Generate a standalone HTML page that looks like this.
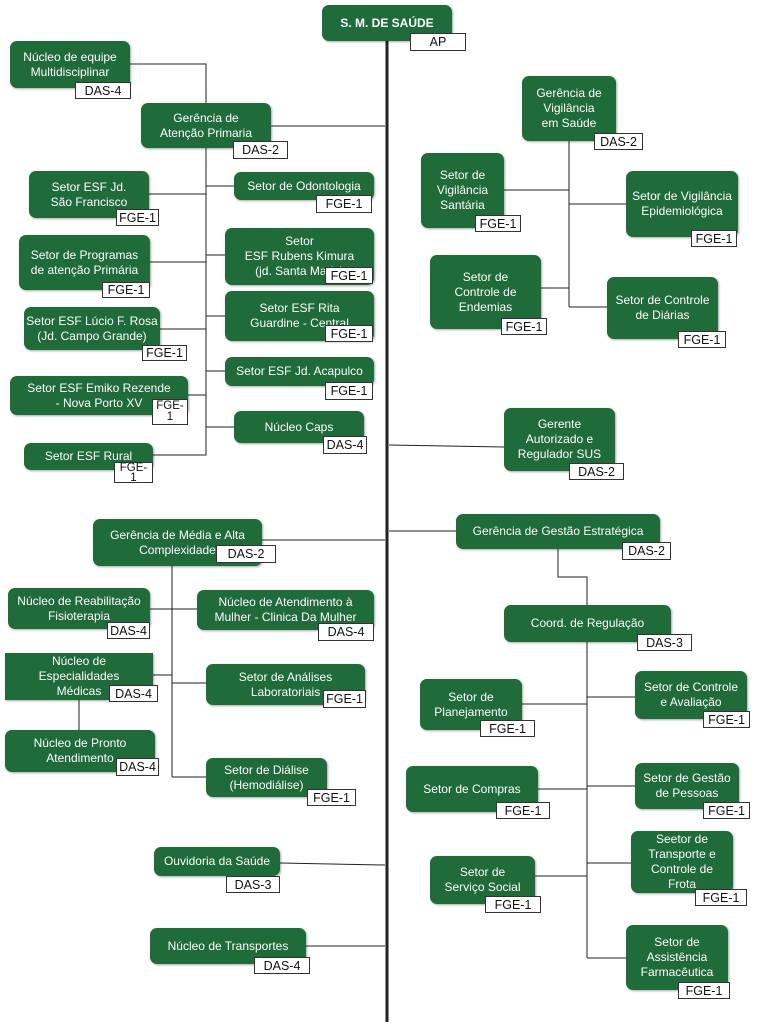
<!DOCTYPE html>
<html><head><meta charset="utf-8"><style>
body{margin:0;width:757px;height:1024px;background:#fff;position:relative;overflow:hidden;font-family:"Liberation Sans",Arial,sans-serif}
.b{position:absolute;background:#1f6b39;color:#fff;border-radius:7px;display:flex;align-items:center;justify-content:center;text-align:center;font-size:12px;line-height:15px;box-sizing:border-box;padding:0;white-space:nowrap;box-shadow:1px 1px 2px rgba(0,0,0,.35)}
.t{position:absolute;background:#fff;border:1px solid #333;color:#111;font-size:12.5px;line-height:14px;display:flex;align-items:center;justify-content:center;text-align:center;box-sizing:border-box}
svg{position:absolute;left:0;top:0}
</style></head><body>
<svg width="757" height="1024">
<g stroke="#222" stroke-width="1" fill="none">
<line x1="387" y1="40" x2="387" y2="1022" stroke-width="3"/>
<polyline points="130,64 206,64 206,455 153,455"/>
<line x1="271" y1="126" x2="385" y2="126"/>
<line x1="149" y1="194" x2="206" y2="194"/>
<line x1="206" y1="186" x2="234" y2="186"/>
<line x1="150" y1="262" x2="206" y2="262"/>
<line x1="206" y1="255" x2="225" y2="255"/>
<line x1="160" y1="329" x2="206" y2="329"/>
<line x1="206" y1="316" x2="225" y2="316"/>
<line x1="188" y1="395" x2="206" y2="395"/>
<line x1="206" y1="371" x2="225" y2="371"/>
<line x1="206" y1="427" x2="234" y2="427"/>
<line x1="569" y1="141" x2="569" y2="307"/>
<line x1="504" y1="190" x2="569" y2="190"/>
<line x1="569" y1="204" x2="626" y2="204"/>
<line x1="541" y1="288" x2="569" y2="288"/>
<line x1="569" y1="307" x2="607" y2="307"/>
<line x1="389" y1="445" x2="504" y2="447"/>
<line x1="389" y1="531" x2="456" y2="531"/>
<polyline points="558,549 558,577 587,577 587,605"/>
<line x1="587" y1="642" x2="587" y2="958"/>
<line x1="522" y1="704" x2="587" y2="704"/>
<line x1="587" y1="697" x2="635" y2="697"/>
<line x1="538" y1="789" x2="587" y2="789"/>
<line x1="587" y1="786" x2="635" y2="786"/>
<line x1="535" y1="876" x2="587" y2="876"/>
<line x1="587" y1="863" x2="631" y2="863"/>
<line x1="587" y1="958" x2="626" y2="958"/>
<line x1="262" y1="540" x2="385" y2="540"/>
<line x1="172" y1="566" x2="172" y2="777"/>
<line x1="150" y1="609" x2="197" y2="609"/>
<line x1="153" y1="675" x2="172" y2="675"/>
<line x1="172" y1="683" x2="206" y2="683"/>
<line x1="79" y1="700" x2="79" y2="730"/>
<line x1="172" y1="777" x2="206" y2="777"/>
<line x1="280" y1="863" x2="385" y2="865"/>
<line x1="306" y1="946" x2="385" y2="946"/>
</g></svg>

<div class="b" style="left:322px;top:5px;width:130px;height:36px;font-weight:bold">S. M. DE SAÚDE</div>
<div class="t" style="left:410px;top:33px;width:56px;height:18px">AP</div>

<div class="b" style="left:10px;top:41px;width:120px;height:47px">Núcleo de equipe<br>Multidisciplinar</div>
<div class="t" style="left:75px;top:82px;width:56px;height:17px">DAS-4</div>
<div class="b" style="left:141px;top:103px;width:130px;height:45px">Gerência de<br>Atenção Primaria</div>
<div class="t" style="left:233px;top:141px;width:55px;height:18px">DAS-2</div>
<div class="b" style="left:29px;top:171px;width:120px;height:47px">Setor ESF Jd.<br>São Francisco</div>
<div class="t" style="left:116px;top:209px;width:43px;height:17px">FGE-1</div>
<div class="b" style="left:234px;top:172px;width:140px;height:28px">Setor de Odontologia</div>
<div class="t" style="left:316px;top:195px;width:56px;height:18px">FGE-1</div>
<div class="b" style="left:19px;top:235px;width:131px;height:55px">Setor de Programas<br>de atenção Primária</div>
<div class="t" style="left:102px;top:282px;width:48px;height:16px">FGE-1</div>
<div class="b" style="left:225px;top:228px;width:149px;height:57px">Setor<br>ESF Rubens Kimura<br>(jd. Santa Maria)</div>
<div class="t" style="left:325px;top:267px;width:48px;height:17px">FGE-1</div>
<div class="b" style="left:24px;top:307px;width:136px;height:43px">Setor ESF Lúcio F. Rosa<br>(Jd. Campo Grande)</div>
<div class="t" style="left:142px;top:345px;width:45px;height:16px">FGE-1</div>
<div class="b" style="left:225px;top:291px;width:149px;height:50px">Setor ESF Rita<br>Guardine - Central</div>
<div class="t" style="left:325px;top:325px;width:48px;height:17px">FGE-1</div>
<div class="b" style="left:10px;top:376px;width:178px;height:39px">Setor ESF Emiko Rezende<br>- Nova Porto XV</div>
<div class="t" style="left:152px;top:399px;width:36px;height:26px;font-size:11.5px;line-height:11px">FGE-<br>1</div>
<div class="b" style="left:225px;top:357px;width:149px;height:29px">Setor ESF Jd. Acapulco</div>
<div class="t" style="left:325px;top:382px;width:48px;height:18px">FGE-1</div>
<div class="b" style="left:234px;top:411px;width:130px;height:32px">Núcleo Caps</div>
<div class="t" style="left:323px;top:436px;width:44px;height:18px">DAS-4</div>
<div class="b" style="left:24px;top:443px;width:129px;height:27px">Setor ESF Rural</div>
<div class="t" style="left:114px;top:462px;width:39px;height:21px;font-size:11.5px;line-height:10px">FGE-<br>1</div>

<div class="b" style="left:522px;top:76px;width:94px;height:65px">Gerência de<br>Vigilância<br>em Saúde</div>
<div class="t" style="left:594px;top:133px;width:49px;height:17px">DAS-2</div>
<div class="b" style="left:421px;top:153px;width:83px;height:75px">Setor de<br>Vigilância<br>Santária</div>
<div class="t" style="left:475px;top:215px;width:46px;height:17px">FGE-1</div>
<div class="b" style="left:626px;top:171px;width:112px;height:66px">Setor de Vigilância<br>Epidemiológica</div>
<div class="t" style="left:691px;top:230px;width:46px;height:17px">FGE-1</div>
<div class="b" style="left:430px;top:255px;width:111px;height:74px">Setor de<br>Controle de<br>Endemias</div>
<div class="t" style="left:501px;top:318px;width:46px;height:17px">FGE-1</div>
<div class="b" style="left:607px;top:277px;width:111px;height:62px">Setor de Controle<br>de Diárias</div>
<div class="t" style="left:678px;top:331px;width:48px;height:17px">FGE-1</div>
<div class="b" style="left:504px;top:408px;width:111px;height:63px">Gerente<br>Autorizado e<br>Regulador SUS</div>
<div class="t" style="left:569px;top:463px;width:55px;height:17px">DAS-2</div>

<div class="b" style="left:456px;top:514px;width:204px;height:35px">Gerência de Gestão Estratégica</div>
<div class="t" style="left:622px;top:542px;width:49px;height:18px">DAS-2</div>
<div class="b" style="left:504px;top:605px;width:167px;height:37px">Coord. de Regulação</div>
<div class="t" style="left:637px;top:634px;width:55px;height:17px">DAS-3</div>
<div class="b" style="left:420px;top:679px;width:102px;height:51px">Setor de<br>Planejamento</div>
<div class="t" style="left:480px;top:720px;width:55px;height:17px">FGE-1</div>
<div class="b" style="left:635px;top:671px;width:112px;height:48px">Setor de Controle<br>e Avaliação</div>
<div class="t" style="left:703px;top:711px;width:47px;height:17px">FGE-1</div>
<div class="b" style="left:406px;top:766px;width:132px;height:46px">Setor de Compras</div>
<div class="t" style="left:496px;top:802px;width:54px;height:17px">FGE-1</div>
<div class="b" style="left:635px;top:763px;width:104px;height:46px">Setor de Gestão<br>de Pessoas</div>
<div class="t" style="left:703px;top:802px;width:47px;height:17px">FGE-1</div>
<div class="b" style="left:430px;top:856px;width:105px;height:48px">Setor de<br>Serviço Social</div>
<div class="t" style="left:485px;top:896px;width:56px;height:17px">FGE-1</div>
<div class="b" style="left:631px;top:831px;width:102px;height:62px">Seetor de<br>Transporte e<br>Controle de<br>Frota</div>
<div class="t" style="left:695px;top:889px;width:52px;height:17px">FGE-1</div>
<div class="b" style="left:626px;top:925px;width:102px;height:65px">Setor de<br>Assistência<br>Farmacêutica</div>
<div class="t" style="left:678px;top:982px;width:52px;height:17px">FGE-1</div>

<div class="b" style="left:93px;top:519px;width:169px;height:47px">Gerência de Média e Alta<br>Complexidade</div>
<div class="t" style="left:216px;top:545px;width:60px;height:18px">DAS-2</div>
<div class="b" style="left:8px;top:588px;width:142px;height:41px">Núcleo de Reabilitação<br>Fisioterapia</div>
<div class="t" style="left:107px;top:622px;width:43px;height:17px">DAS-4</div>
<div class="b" style="left:197px;top:590px;width:177px;height:40px">Núcleo de Atendimento à<br>Mulher - Clinica Da Mulher</div>
<div class="t" style="left:318px;top:623px;width:56px;height:18px">DAS-4</div>
<div class="b" style="left:5px;top:653px;width:148px;height:47px;border-radius:0">Núcleo de<br>Especialidades<br>Médicas</div>
<div class="t" style="left:109px;top:685px;width:49px;height:17px">DAS-4</div>
<div class="b" style="left:206px;top:664px;width:159px;height:41px">Setor de Análises<br>Laboratoriais</div>
<div class="t" style="left:323px;top:690px;width:43px;height:18px">FGE-1</div>
<div class="b" style="left:5px;top:730px;width:150px;height:42px">Núcleo de Pronto<br>Atendimento</div>
<div class="t" style="left:116px;top:758px;width:43px;height:18px">DAS-4</div>
<div class="b" style="left:206px;top:758px;width:121px;height:39px">Setor de Diálise<br>(Hemodiálise)</div>
<div class="t" style="left:307px;top:789px;width:49px;height:17px">FGE-1</div>
<div class="b" style="left:154px;top:847px;width:126px;height:29px">Ouvidoria da Saúde</div>
<div class="t" style="left:226px;top:876px;width:54px;height:17px">DAS-3</div>
<div class="b" style="left:150px;top:928px;width:156px;height:36px">Núcleo de Transportes</div>
<div class="t" style="left:254px;top:957px;width:56px;height:17px">DAS-4</div>
</body></html>
